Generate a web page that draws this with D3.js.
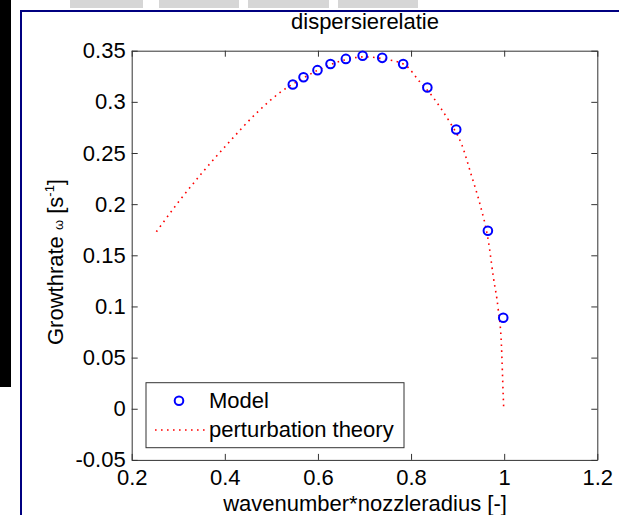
<!DOCTYPE html>
<meta charset="utf-8">
<style>
body { margin: 0; background: #fff; }
text { font-family: "Liberation Sans", Arial, sans-serif; fill: #000; }
.axis path, .axis line { stroke: #333; }
</style>
<svg width="619" height="515"></svg>
<script src="https://cdn.jsdelivr.net/npm/d3@7"></script>
<script>

// Model (blue circles)
var modelX = [0.546, 0.569, 0.599, 0.627, 0.660, 0.696, 0.738, 0.783, 0.835, 0.897, 0.965, 0.998];
var modelY = [0.317, 0.324, 0.331, 0.337, 0.342, 0.345, 0.343, 0.337, 0.314, 0.273, 0.174, 0.089];

// perturbation theory (red dotted)
var theoryX = [0.253, 0.302, 0.352, 0.408, 0.468, 0.521, 0.560, 0.600, 0.650, 0.700, 0.740, 0.787,
               0.818, 0.848, 0.865, 0.882, 0.909, 0.929, 0.948, 0.966, 0.977, 0.987, 0.994, 0.998, 0.999];
var theoryY = [0.173, 0.203, 0.231, 0.260, 0.289, 0.310, 0.321, 0.331, 0.340, 0.344, 0.342, 0.336,
               0.320, 0.304, 0.293, 0.281, 0.258, 0.229, 0.200, 0.164, 0.128, 0.098, 0.063, 0.012, 0.000];

var xTicks = [0.2, 0.4, 0.6, 0.8, 1, 1.2];
var yTicks = [-0.05, 0, 0.05, 0.1, 0.15, 0.2, 0.25, 0.3, 0.35];

var svg = d3.select("svg"),
    margin = {top: 50.7, left: 131.7},
    width = 465.6,
    height = 409.2;

// window decorations
svg.append("rect").attr("x", 0).attr("y", 0).attr("width", 11).attr("height", 387).attr("fill", "#000");
[[70, 73], [159, 80], [248, 81], [338, 80]].forEach(function(b) {
  svg.append("rect").attr("x", b[0]).attr("y", 0).attr("width", b[1]).attr("height", 8).attr("fill", "#d6d6d6");
});
svg.append("path").attr("d", "M21,515V11H619").attr("fill", "none").attr("stroke", "#000080").attr("stroke-width", 2);

var x = d3.scaleLinear().domain([0.2, 1.2]).range([0, width]),
    y = d3.scaleLinear().domain([-0.05, 0.35]).range([height, 0]);

var g = svg.append("g").attr("transform", "translate(" + margin.left + "," + margin.top + ")");

var fmt = function(d) { return String(d); };

g.append("g").attr("class", "axis").attr("transform", "translate(0," + height + ")")
    .call(d3.axisBottom(x).tickValues(xTicks).tickFormat(fmt).tickSizeInner(-6).tickSizeOuter(0).tickPadding(9.5))
    .call(function(a) { a.selectAll("text").attr("font-size", 22).attr("font-family", "Liberation Sans, Arial").attr("fill", "#000"); });
g.append("g").attr("class", "axis")
    .call(d3.axisTop(x).tickValues(xTicks).tickFormat("").tickSizeInner(-6).tickSizeOuter(0));
g.append("g").attr("class", "axis")
    .call(d3.axisLeft(y).tickValues(yTicks).tickFormat(fmt).tickSizeInner(-6).tickSizeOuter(0).tickPadding(6))
    .call(function(a) { a.selectAll("text").attr("font-size", 22).attr("font-family", "Liberation Sans, Arial").attr("fill", "#000"); });
g.append("g").attr("class", "axis").attr("transform", "translate(" + width + ",0)")
    .call(d3.axisRight(y).tickValues(yTicks).tickFormat("").tickSizeInner(-6).tickSizeOuter(0));

// theory curve
var theory = theoryX.map(function(v, i) { return [v, theoryY[i]]; });
var line = d3.line().x(function(d) { return x(d[0]); }).y(function(d) { return y(d[1]); }).curve(d3.curveMonotoneX);
g.append("path").datum(theory).attr("d", line)
    .attr("fill", "none").attr("stroke", "#ff0000").attr("stroke-width", 1.6)
    .attr("stroke-dasharray", "1.6,4.4");

// model points
g.selectAll(".pt").data(modelX).enter().append("circle")
    .attr("class", "pt")
    .attr("cx", function(d) { return x(d); })
    .attr("cy", function(d, i) { return y(modelY[i]); })
    .attr("r", 4.3)
    .attr("fill", "none").attr("stroke", "#0000ff").attr("stroke-width", 2);

// title and labels
svg.append("text").attr("x", 365).attr("y", 29).attr("text-anchor", "middle").attr("font-size", 22).text("dispersierelatie");
svg.append("text").attr("x", 365).attr("y", 511).attr("text-anchor", "middle").attr("font-size", 22).text("wavenumber*nozzleradius [-]");

var yl = svg.append("text").attr("transform", "translate(63,262) rotate(-90)").attr("text-anchor", "middle").attr("font-size", 22);
yl.append("tspan").text("Growthrate ");
yl.append("tspan").attr("font-size", 13).text("ω");
yl.append("tspan").text(" [s");
yl.append("tspan").attr("font-size", 13).attr("dy", -9).text("-1");
yl.append("tspan").attr("dy", 9).text("]");

// legend
var lg = svg.append("g");
lg.append("rect").attr("x", 146).attr("y", 382.7).attr("width", 258).attr("height", 65)
    .attr("fill", "#fff").attr("stroke", "#333").attr("stroke-width", 1);
lg.append("circle").attr("cx", 179).attr("cy", 400.7).attr("r", 4.3)
    .attr("fill", "none").attr("stroke", "#0000ff").attr("stroke-width", 2);
lg.append("line").attr("x1", 155).attr("x2", 206).attr("y1", 430).attr("y2", 430)
    .attr("stroke", "#ff0000").attr("stroke-width", 1.6).attr("stroke-dasharray", "1.6,4.4");
lg.append("text").attr("x", 209).attr("y", 408).attr("font-size", 22).text("Model");
lg.append("text").attr("x", 209).attr("y", 437).attr("font-size", 22).text("perturbation theory");

</script>
